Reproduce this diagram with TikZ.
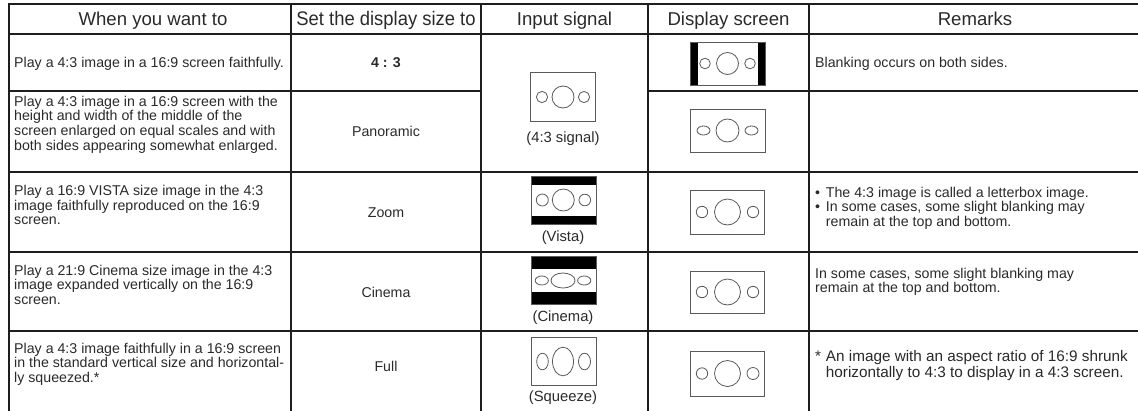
\documentclass[tikz,border=0pt]{standalone}
\usepackage{fontspec}
\setmainfont{Liberation Sans}
\usepackage{graphicx}
\newcommand\mylines[1]{\begin{tabular}[t]{@{}l@{}}#1\end{tabular}}
\newcommand\bodyfont{\fontsize{14.2}{14.6}\selectfont}
\newcommand\bigbodyfont{\fontsize{15.3}{16.4}\selectfont}
\newcommand\sizefont{\fontsize{14.2}{16}\selectfont}
\newcommand\labelfont{\fontsize{14.8}{16}\selectfont}
\newcommand\headfont{\fontsize{18.6}{22}\selectfont}
\newcommand\hang{\hspace*{10.7pt}}
\newcommand\hangmark[1]{\makebox[10.7pt][l]{#1}}
\definecolor{ink}{HTML}{1E1E1E}
\definecolor{txtcol}{HTML}{2A2A2A}
\definecolor{iconline}{HTML}{5A5A5A}
\begin{document}
\begin{tikzpicture}[x=1pt,y=-1pt,
  lefttxt/.style={inner sep=0pt, text=txtcol, font=\bodyfont, anchor=base west},
  sizetxt/.style={inner sep=0pt, text=txtcol, font=\sizefont, anchor=base},
  icontxt/.style={inner sep=0pt, text=txtcol, font=\labelfont, anchor=base},
  head/.style={inner sep=0pt, text=txtcol, font=\headfont, anchor=base},
  grid/.style={draw=ink, line width=1.3pt},
  outer/.style={draw=ink, line width=2.4pt},
  frame/.style={draw=iconline, line width=0.9pt},
  blob/.style={draw=iconline, line width=0.8pt}]
\useasboundingbox (0,0) rectangle (1138,410);
\fill[white] (0,0) rectangle (1138,410);
\clip (0,0) rectangle (1138,410);

% ---------- table rules ----------
\draw[grid] (9,34) -- (1142,34);
\draw[grid] (9,91) -- (481,91);
\draw[grid] (648,91) -- (1142,91);
\draw[grid] (9,172) -- (1142,172);
\draw[grid] (9,252) -- (1142,252);
\draw[grid] (9,331) -- (1142,331);
\foreach \x in {291,481,648,809} \draw[grid] (\x,4) -- (\x,416);
\draw[outer] (9,416) -- (9,4) -- (1142,4);

% ---------- header ----------
\node[head] (h1) at (153,25) {When you want to};
\node[head] (h2) at (386,25) {\scalebox{0.94}[1]{\fontsize{19.6}{22}\selectfont Set the display size to}};
\node[head] (h3) at (564.5,25) {Input signal};
\node[head] (h4) at (728.5,25) {Display screen};
\node[head] (h5) at (975,25) {Remarks};

% ---------- column 1 ----------
\node[lefttxt] (w1) at (14,67) {Play a 4:3 image in a 16:9 screen faithfully.};
\node[lefttxt] (w2) at (14,106) {\mylines{Play a 4:3 image in a 16:9 screen with the\\height and width of the middle of the\\screen enlarged on equal scales and with\\both sides appearing somewhat enlarged.}};
\node[lefttxt] (w3) at (14,195.5) {\mylines{Play a 16:9 VISTA size image in the 4:3\\image faithfully reproduced on the 16:9\\screen.}};
\node[lefttxt] (w4) at (14,275) {\mylines{Play a 21:9 Cinema size image in the 4:3\\image expanded vertically on the 16:9\\screen.}};
\node[lefttxt] (w5) at (14,353) {\mylines{Play a 4:3 image faithfully in a 16:9 screen\\in the standard vertical size and horizontal-\\ly squeezed.*}};

% ---------- column 2 ----------
\node[sizetxt] (s1) at (386,67.5) {\bfseries 4 : 3};
\node[sizetxt] (s2) at (386,136.5) {Panoramic};
\node[sizetxt] (s3) at (386,217) {Zoom};
\node[sizetxt] (s4) at (386,297.5) {Cinema};
\node[sizetxt] (s5) at (386,371) {Full};

% ---------- column 3: input signal ----------
% 4:3 signal
\draw[frame] (530.5,72.5) rectangle (595.5,121);
\draw[blob] (542,97) circle (5.6pt) (563,97) circle (11pt) (584,97) circle (5.6pt);
\node[icontxt] (i1) at (563,142) {(4:3 signal)};
% Vista
\fill[black] (531,176) rectangle (596,184.5);
\fill[black] (531,215.5) rectangle (596,224);
\draw[frame] (531,176) rectangle (596,224);
\draw[blob] (542.3,200) circle (6pt) (563.3,200) circle (11pt) (584.8,200) circle (5.8pt);
\node[icontxt] (i3) at (563,241) {(Vista)};
% Cinema
\fill[black] (531,256.5) rectangle (596,269);
\fill[black] (531,292) rectangle (596,304);
\draw[frame] (531,256.5) rectangle (596,304);
\draw[blob] (541.8,280.5) ellipse [x radius=6.6pt, y radius=4.5pt];
\draw[blob] (563,280.5) ellipse [x radius=12pt, y radius=7.5pt];
\draw[blob] (584.2,280.5) ellipse [x radius=6.6pt, y radius=4.5pt];
\node[icontxt] (i4) at (563,321.5) {(Cinema)};
% Squeeze
\draw[frame] (531,337) rectangle (596,385);
\draw[blob] (542.5,361.5) ellipse [x radius=5.8pt, y radius=8.3pt];
\draw[blob] (563,361.5) ellipse [x radius=10.5pt, y radius=14.3pt];
\draw[blob] (584.5,361.5) ellipse [x radius=6pt, y radius=8.3pt];
\node[icontxt] (i5) at (563,401.5) {(Squeeze)};

% ---------- column 4: display screen ----------
% 4:3 with side blanking
\fill[black] (690,42) rectangle (697.5,85);
\fill[black] (757.5,42) rectangle (765,85);
\draw[frame] (690,42) rectangle (765,85);
\draw[blob] (705,63.5) circle (5.3pt) (727.5,63.5) circle (11pt) (750,63.5) circle (5.3pt);
% Panoramic
\draw[frame] (690,109) rectangle (765,152);
\draw[blob] (703.5,130.5) ellipse [x radius=6.5pt, y radius=4.5pt];
\draw[blob] (727.5,130.5) circle (11.5pt);
\draw[blob] (751.5,130.5) ellipse [x radius=6.5pt, y radius=4.5pt];
% Zoom
\draw[frame] (690,190) rectangle (764,234);
\draw[blob] (702,212) circle (5.7pt) (727.5,212) circle (13pt) (753,212) circle (5.7pt);
% Cinema
\draw[frame] (690,271) rectangle (764,313);
\draw[blob] (702,292) circle (5.7pt) (727.5,292) circle (13pt) (753,292) circle (5.7pt);
% Full
\draw[frame] (690,351) rectangle (764,396);
\draw[blob] (702,373.5) circle (5.7pt) (727.5,373.5) circle (13pt) (753,373.5) circle (6pt);

% ---------- column 5: remarks ----------
\node[lefttxt] (m1) at (815,67) {Blanking occurs on both sides.};
\node[lefttxt] (m3) at (815,197) {\mylines{\hangmark{•}The 4:3 image is called a letterbox image.\\\hangmark{•}In some cases, some slight blanking may\\\hang remain at the top and bottom.}};
\node[lefttxt] (m4) at (815,278) {\mylines{In some cases, some slight blanking may\\remain at the top and bottom.}};
\node[lefttxt, font=\bigbodyfont] (m5) at (815,361.5) {\mylines{\hangmark{*}An image with an aspect ratio of 16:9 shrunk\\\hang horizontally to 4:3 to display in a 4:3 screen.}};
\end{tikzpicture}
\end{document}
